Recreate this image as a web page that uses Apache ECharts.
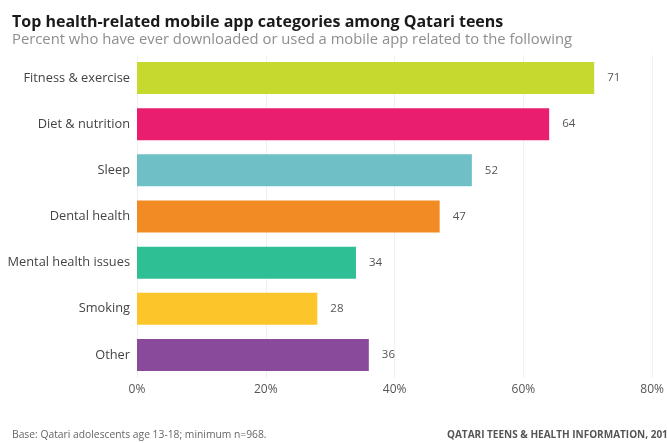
<!DOCTYPE html>
<html>
<head>
<meta charset="utf-8">
<script src="https://cdn.jsdelivr.net/npm/echarts@6/dist/echarts.min.js"></script>
<style>
  html, body { margin: 0; padding: 0; background: #ffffff; }
  #chart { width: 667px; height: 443px; }
</style>
</head>
<body>
<div id="chart"></div>
<script>
// Health-related app categories, top to bottom
const categories = [
  'Fitness & exercise',
  'Diet & nutrition',
  'Sleep',
  'Dental health',
  'Mental health issues',
  'Smoking',
  'Other'
];
const values = [71, 64, 52, 47, 34, 28, 36];
const barColors = ['#c6d92e', '#e91e6e', '#6fc0c6', '#f38b25', '#2fbf95', '#fcc52a', '#8a4a9c'];
const tickValues = [0, 20, 40, 60, 80];

const FONT = '"Open Sans", "Noto Sans", sans-serif';

const chart = echarts.init(document.getElementById('chart'), null, { renderer: 'canvas' });

chart.setOption({
  backgroundColor: '#ffffff',
  animation: false,
  title: [
    {
      text: 'Top health-related mobile app categories among Qatari teens',
      left: 7, top: 9,
      textStyle: { fontFamily: FONT, fontSize: 16, fontWeight: 'bold', color: '#1a1a1a' }
    },
    {
      text: 'Percent who have ever downloaded or used a mobile app related to the following',
      left: 7, top: 27,
      textStyle: { fontFamily: FONT, fontSize: 14.8, fontWeight: 'normal', color: '#8e8e8e' }
    },
    {
      text: 'Base: Qatari adolescents age 13-18; minimum n=968.',
      left: 7, top: 425,
      textStyle: { fontFamily: FONT, fontSize: 10.3, fontWeight: 'normal', color: '#666666' }
    },
    {
      text: 'QATARI TEENS & HEALTH INFORMATION, 2016',
      left: 442, top: 425,
      textStyle: { fontFamily: FONT, fontSize: 10, fontWeight: 'bold', color: '#555555' }
    }
  ],
  grid: { left: 137, right: 10, top: 55, bottom: 65, containLabel: false },
  xAxis: {
    type: 'value',
    min: tickValues[0],
    max: tickValues[tickValues.length - 1],
    interval: 20,
    axisLine: { show: false },
    axisTick: { show: false },
    splitLine: { show: true, lineStyle: { color: '#f0f0f0', width: 1 } },
    axisLabel: {
      margin: 6,
      fontFamily: FONT, fontSize: 12, color: '#555555',
      formatter: v => v + '%'
    }
  },
  yAxis: {
    type: 'category',
    data: categories,
    inverse: true,
    axisLine: { show: false },
    axisTick: { show: false },
    axisLabel: { margin: 7, fontFamily: FONT, fontSize: 12.8, color: '#444444' }
  },
  series: [{
    type: 'bar',
    data: values.map((v, i) => ({ value: v, itemStyle: { color: barColors[i] } })),
    barWidth: 32,
    label: {
      show: true,
      position: 'right',
      distance: 13,
      fontFamily: FONT, fontSize: 11.5, color: '#555555'
    }
  }]
});
</script>
</body>
</html>
